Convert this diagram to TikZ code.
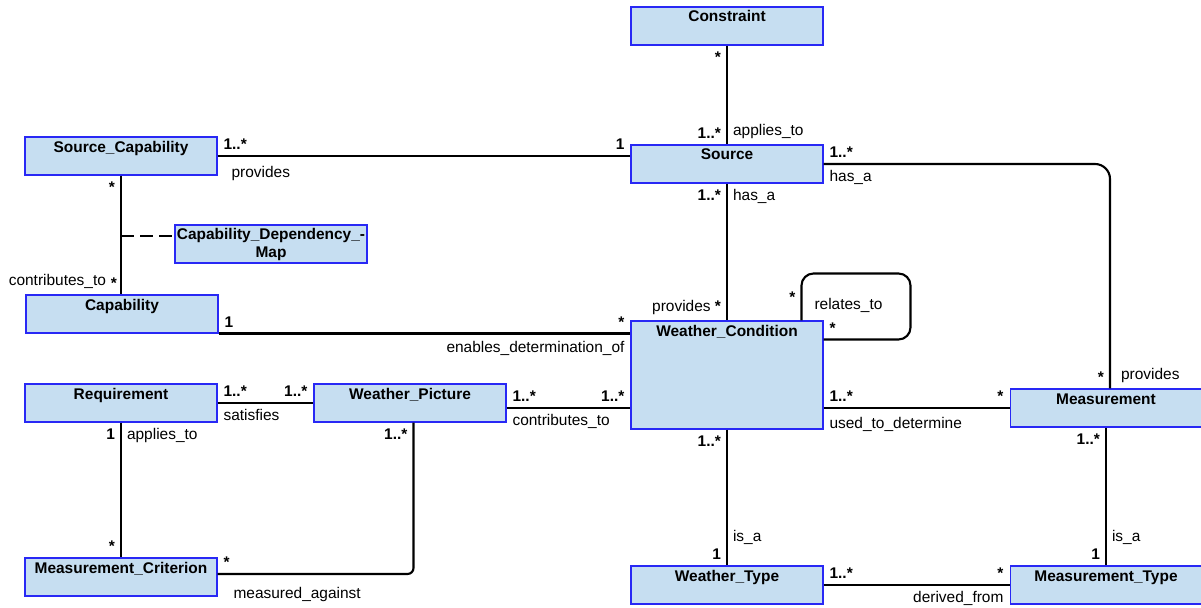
\documentclass[tikz,border=0pt]{standalone}
\usepackage{fontspec}
\setmainfont{Liberation Sans}
\usepackage{xcolor}
\usepackage{tikz}
\usetikzlibrary{positioning}
\definecolor{boxfill}{RGB}{198,222,241}
\definecolor{boxline}{RGB}{40,40,245}
\newcommand{\labelfont}{\fontsize{8.8}{10.2}\selectfont}
\newcommand{\boldlabel}{\labelfont\bfseries}
\tikzstyle{classbox} = [rectangle, draw=boxline, fill=boxfill, line width=0.6pt, minimum width=3.84cm, inner xsep=0pt, inner ysep=0.08cm, text height=0.22cm, text depth=0.38cm, font=\boldlabel]
\tikzstyle{assoc} = [line width=1.2pt, black]
\tikzstyle{depline} = [line width=1.5pt, black, dash pattern=on 7.3pt off 3.6pt]
\tikzstyle{mult} = [inner sep=0.1cm, font=\boldlabel]
\tikzstyle{role} = [inner sep=0.1cm, font=\labelfont]

\begin{document}
\begin{tikzpicture}[x=0.02cm, y=-0.02cm]
	\useasboundingbox (0,0) rectangle (1201,608);

	\node (constraint) [classbox] at (727,26) {Constraint};
	\node (source) [classbox] at (727,164) {Source};
	\node (srccap) [classbox] at (121,156) {Source\_Capability};
	\node (capdepmap) [classbox, align=center, text height=0.57cm, text depth=0.03cm] at (271,244) {Capability\_Dependency\_-\\Map};
	\node (capability) [classbox] at (122,314) {Capability};
	\node (wcond) [classbox, minimum height=2.16cm, text depth=1.78cm] at (727,375) {Weather\_Condition};
	\node (requirement) [classbox] at (121,403) {Requirement};
	\node (wpicture) [classbox] at (410,403) {Weather\_Picture};
	\node (mcriterion) [classbox] at (121,577) {Measurement\_Criterion};
	\node (measurement) [classbox] at (1106,408) {Measurement};
	\node (wtype) [classbox] at (727,585) {Weather\_Type};
	\node (mtype) [classbox] at (1106,585) {Measurement\_Type};

	\coordinate (depmid) at (121,236);

	\draw [assoc] (constraint) -- (source)
		node[mult, pos=0, anchor=north east] {*}
		node[mult, pos=1, anchor=south east] {1..*}
		node[role, pos=1, anchor=south west] {applies\_to};
	\draw [assoc] (srccap) -- (srccap -| source.west)
		node[mult, pos=0, anchor=south west] {1..*}
		node[role, pos=0, anchor=north west, xshift=0.16cm, yshift=-0.08cm] {provides}
		node[mult, pos=1, anchor=south east] {1};
	\draw [assoc] (source) -- (wcond)
		node[mult, pos=0, anchor=north east] {1..*}
		node[role, pos=0, anchor=north west] {has\_a}
		node[role, pos=1, anchor=south east] {provides \textbf{*}};
	\draw [assoc, rounded corners=0.3cm] (source.east) -| ([xshift=0.08cm]measurement.north)
		node[mult, pos=0, anchor=south west] {1..*}
		node[role, pos=0, anchor=north west] {has\_a}
		node[mult, pos=1, anchor=south east] {*}
		node[role, pos=1, anchor=south west, xshift=0.1cm] {provides};
	\draw [assoc] (srccap.south) -- (srccap.south |- capability.north)
		node[mult, pos=0, anchor=north east] {*}
		node[mult, pos=1, anchor=south east, xshift=0.04cm] {*}
		node[role, pos=1, anchor=south east, xshift=-0.18cm] {contributes\_to};
	\draw [depline] (depmid) -- (depmid -| capdepmap.west);
	\draw [assoc] (capability.south east) -- (capability.south east -| wcond.west)
		node[mult, pos=0, anchor=south west] {1}
		node[mult, pos=1, anchor=south east] {*}
		node[role, pos=1, anchor=north east, yshift=-0.04cm] {enables\_determination\_of};
	% self association
	\draw [assoc, rounded corners=0.24cm] (wcond.north east) ++(-22,0) -- ++(0,-47)
		node[mult, pos=0.25, anchor=south east] {*}
		node[role, pos=0.32, anchor=west, xshift=0.14cm] {relates\_to}
		-| ++(109,66) -- ++(-87,0)
		node[mult, pos=1, anchor=south west] {*};

	\draw [assoc] (requirement) -- (wpicture)
		node[mult, pos=0, anchor=south west] {1..*}
		node[role, pos=0, anchor=north west] {satisfies}
		node[mult, pos=1, anchor=south east] {1..*};
	\draw [assoc] ([yshift=-0.1cm]wpicture.east) -- ([yshift=-0.1cm]wpicture.east -| wcond.west)
		node[mult, pos=0, anchor=south west] {1..*}
		node[role, pos=0, anchor=north west] {contributes\_to}
		node[mult, pos=1, anchor=south east] {1..*};
	\draw [assoc] (measurement.west -| wcond.east) -- (measurement.west)
		node[mult, pos=0, anchor=south west] {1..*}
		node[role, pos=0, anchor=north west, yshift=-0.06cm] {used\_to\_determine}
		node[mult, pos=1, anchor=south east] {*};
	\draw [assoc] (requirement) -- (mcriterion)
		node[mult, pos=0, anchor=north east] {1}
		node[role, pos=0, anchor=north west] {applies\_to}
		node[mult, pos=1, anchor=south east] {*};
	\draw [assoc, rounded corners=0.12cm] ([yshift=0.06cm]mcriterion.east) -| ([xshift=0.07cm]wpicture.south)
		node[mult, pos=0, anchor=south west] {*}
		node[role, pos=0, anchor=north west, xshift=0.2cm, yshift=-0.14cm] {measured\_against}
		node[mult, pos=1, anchor=north east] {1..*};
	\draw [assoc] (wcond) -- (wtype)
		node[mult, pos=0, anchor=north east] {1..*}
		node[role, pos=1, anchor=south west, yshift=0.3cm] {is\_a}
		node[mult, pos=1, anchor=south east] {1};
	\draw [assoc] (measurement) -- (mtype)
		node[mult, pos=0, anchor=north east] {1..*}
		node[role, pos=1, anchor=south west, yshift=0.3cm] {is\_a}
		node[mult, pos=1, anchor=south east] {1};
	\draw [assoc] (wtype) -- (mtype)
		node[mult, pos=0, anchor=south west] {1..*}
		node[mult, pos=1, anchor=south east] {*}
		node[role, pos=1, anchor=north east] {derived\_from};
\end{tikzpicture}
\end{document}
